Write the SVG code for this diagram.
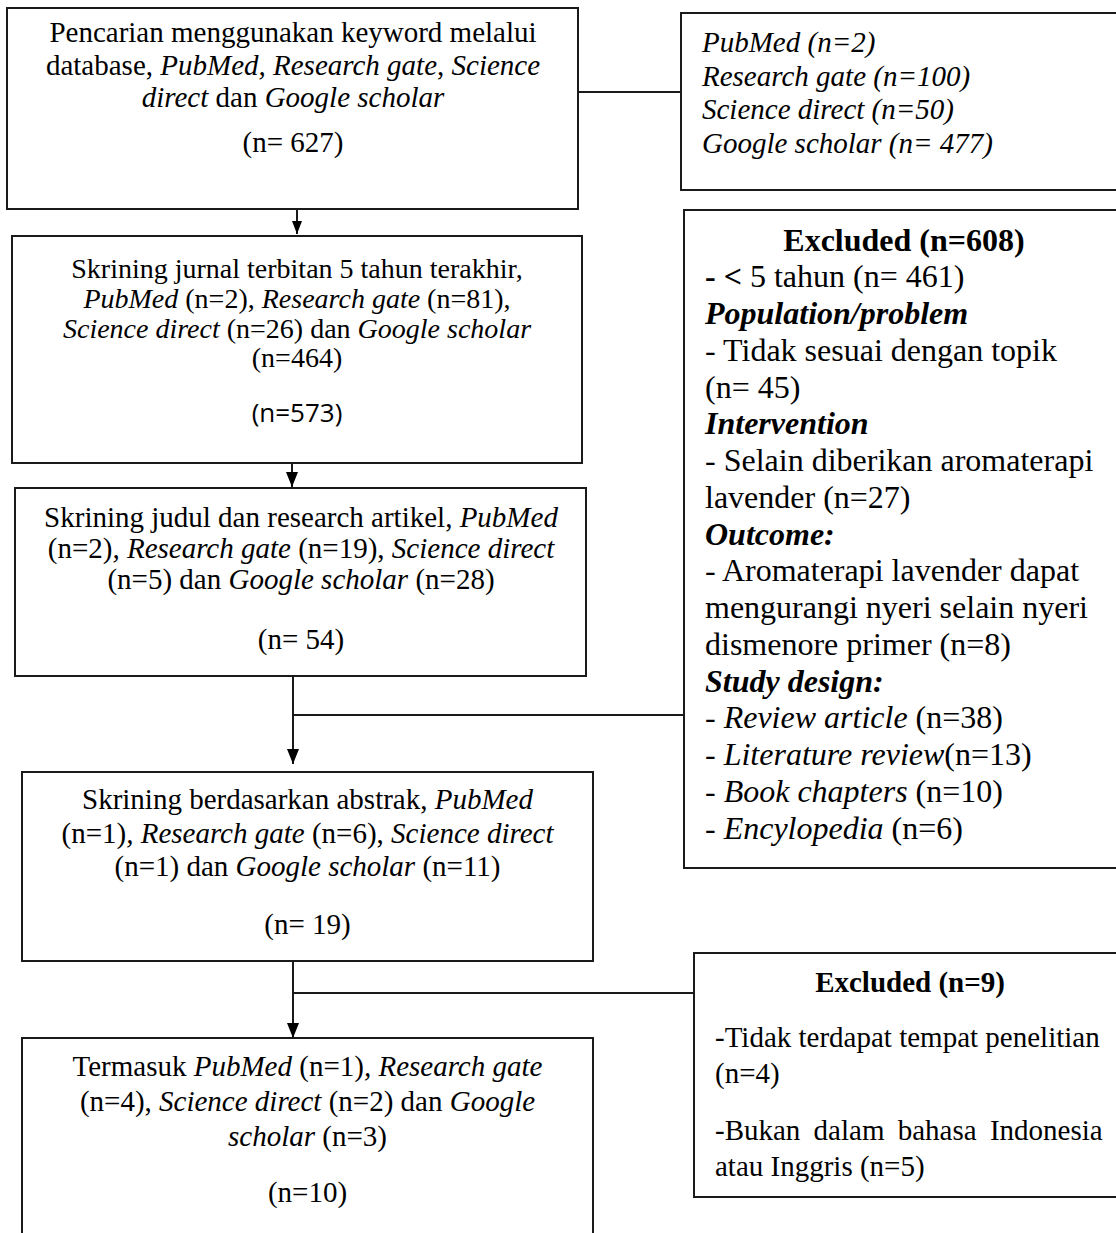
<svg xmlns="http://www.w3.org/2000/svg" width="1116" height="1233" viewBox="0 0 1116 1233">
<style>
  .box { fill: #fff; stroke: #1a1a1a; stroke-width: 2; }
  .conn { fill: none; stroke: #1a1a1a; stroke-width: 2; }
  .t { font-family: "Liberation Serif", "Times New Roman", serif; font-size: 29px; fill: #000; }
  .c { text-anchor: middle; }
  .big { font-size: 32px; }
  .tight { font-size: 28px; }
  .i { font-style: italic; }
  .b { font-weight: bold; }
  .sans { font-family: "Open Sans", "DejaVu Sans", sans-serif; font-size: 26px; fill: #000; }
</style>
<defs>
  <marker id="ah" viewBox="0 0 15 12" refX="15" refY="6" markerWidth="15" markerHeight="12" markerUnits="userSpaceOnUse" orient="auto">
    <path d="M0,0 L15,6 L0,12 z" fill="#000"/>
  </marker>
  <marker id="ahs" viewBox="0 0 13 10" refX="13" refY="5" markerWidth="13" markerHeight="10" markerUnits="userSpaceOnUse" orient="auto">
    <path d="M0,0 L13,5 L0,10 z" fill="#000"/>
  </marker>
</defs>
<rect width="1116" height="1233" fill="#fff"/>

<g id="connectors">
  <line class="conn" x1="578" y1="92" x2="681" y2="92"/>
  <line class="conn" x1="297" y1="209" x2="297" y2="234" marker-end="url(#ahs)"/>
  <line class="conn" x1="292" y1="463" x2="292" y2="487" marker-end="url(#ah)"/>
  <line class="conn" x1="293" y1="676" x2="293" y2="764" marker-end="url(#ah)"/>
  <line class="conn" x1="293" y1="715" x2="684" y2="715"/>
  <line class="conn" x1="293" y1="955" x2="293" y2="1038" marker-end="url(#ah)"/>
  <line class="conn" x1="293" y1="993" x2="694" y2="993"/>
</g>

<g id="node-search">
  <rect class="box" x="7" y="8" width="571" height="201"/>
  <text class="t c" x="293" y="42">Pencarian menggunakan keyword melalui</text>
  <text class="t c" x="293" y="75">database, <tspan class="i">PubMed, Research gate</tspan>, <tspan class="i">Science</tspan></text>
  <text class="t c" x="293" y="107"><tspan class="i">direct</tspan> dan <tspan class="i">Google scholar</tspan></text>
  <text class="t c" x="293" y="152">(n= 627)</text>
</g>

<g id="node-sources">
  <rect class="box" x="681" y="13" width="460" height="177"/>
  <text class="t i" x="702" y="52">PubMed (n=2)</text>
  <text class="t i" x="702" y="85.5">Research gate (n=100)</text>
  <text class="t i" x="702" y="119">Science direct (n=50)</text>
  <text class="t i" x="702" y="152.5">Google scholar (n= 477)</text>
</g>

<g id="node-screen-year">
  <rect class="box" x="12" y="236" width="570" height="227"/>
  <text class="t tight c" x="297" y="278">Skrining jurnal terbitan 5 tahun terakhir,</text>
  <text class="t tight c" x="297" y="308"><tspan class="i">PubMed</tspan> (n=2), <tspan class="i">Research gate</tspan> (n=81),</text>
  <text class="t tight c" x="297" y="338"><tspan class="i">Science direct</tspan> (n=26) dan <tspan class="i">Google scholar</tspan></text>
  <text class="t tight c" x="297" y="367">(n=464)</text>
  <text class="sans c" x="297" y="422">(n=573)</text>
</g>

<g id="node-screen-title">
  <rect class="box" x="15" y="488" width="571" height="188"/>
  <text class="t c" x="301" y="527">Skrining judul dan research artikel, <tspan class="i">PubMed</tspan></text>
  <text class="t c" x="301" y="558">(n=2)<tspan class="i">, Research gate</tspan> (n=19), <tspan class="i">Science direct</tspan></text>
  <text class="t c" x="301" y="589">(n=5) dan <tspan class="i">Google scholar</tspan> (n=28)</text>
  <text class="t c" x="301" y="649">(n= 54)</text>
</g>

<g id="node-screen-abstract">
  <rect class="box" x="22" y="772" width="571" height="189"/>
  <text class="t c" x="307.5" y="809">Skrining berdasarkan abstrak, <tspan class="i">PubMed</tspan></text>
  <text class="t c" x="307.5" y="843">(n=1)<tspan class="i">, Research gate</tspan> (n=6), <tspan class="i">Science direct</tspan></text>
  <text class="t c" x="307.5" y="876">(n=1) dan <tspan class="i">Google scholar</tspan> (n=11)</text>
  <text class="t c" x="307.5" y="934">(n= 19)</text>
</g>

<g id="node-included">
  <rect class="box" x="22" y="1038" width="571" height="230"/>
  <text class="t c" x="307.5" y="1076">Termasuk <tspan class="i">PubMed</tspan> (n=1)<tspan class="i">, Research gate</tspan></text>
  <text class="t c" x="307.5" y="1111">(n=4), <tspan class="i">Science direct</tspan> (n=2) dan <tspan class="i">Google</tspan></text>
  <text class="t c" x="307.5" y="1146"><tspan class="i">scholar</tspan> (n=3)</text>
  <text class="t c" x="307.5" y="1202">(n=10)</text>
</g>

<g id="node-excluded-608">
  <rect class="box" x="684" y="210" width="460" height="658"/>
  <text class="t big b c" x="904" y="250.5">Excluded (n=608)</text>
  <text class="t big" x="705" y="287.25"><tspan class="b">- &lt;</tspan> 5 tahun (n= 461)</text>
  <text class="t big b i" x="705" y="324">Population/problem</text>
  <text class="t big" x="705" y="360.75" fill="#222">- Tidak sesuai dengan topik</text>
  <text class="t big" x="705" y="397.5">(n= 45)</text>
  <text class="t big b i" x="705" y="434.25">Intervention</text>
  <text class="t big" x="705" y="471">- Selain diberikan aromaterapi</text>
  <text class="t big" x="705" y="507.75">lavender (n=27)</text>
  <text class="t big b i" x="705" y="544.5">Outcome:</text>
  <text class="t big" x="705" y="581.25">- Aromaterapi lavender dapat</text>
  <text class="t big" x="705" y="618">mengurangi nyeri selain nyeri</text>
  <text class="t big" x="705" y="654.75">dismenore primer (n=8)</text>
  <text class="t big b i" x="705" y="691.5">Study design:</text>
  <text class="t big" x="705" y="728.25">- <tspan class="i">Review article</tspan> (n=38)</text>
  <text class="t big" x="705" y="765">- <tspan class="i">Literature review</tspan>(n=13)</text>
  <text class="t big" x="705" y="801.75">- <tspan class="i">Book chapters</tspan> (n=10)</text>
  <text class="t big" x="705" y="838.5">- <tspan class="i">Encylopedia</tspan> (n=6)</text>
</g>

<g id="node-excluded-9">
  <rect class="box" x="694" y="953" width="450" height="244"/>
  <text class="t b c" x="910" y="991.5">Excluded (n=9)</text>
  <text class="t" x="715" y="1046.5">-Tidak terdapat tempat penelitian</text>
  <text class="t" x="715" y="1082.5">(n=4)</text>
  <text class="t" x="715" y="1140" word-spacing="6">-Bukan dalam bahasa Indonesia</text>
  <text class="t" x="715" y="1176">atau Inggris (n=5)</text>
</g>
</svg>
